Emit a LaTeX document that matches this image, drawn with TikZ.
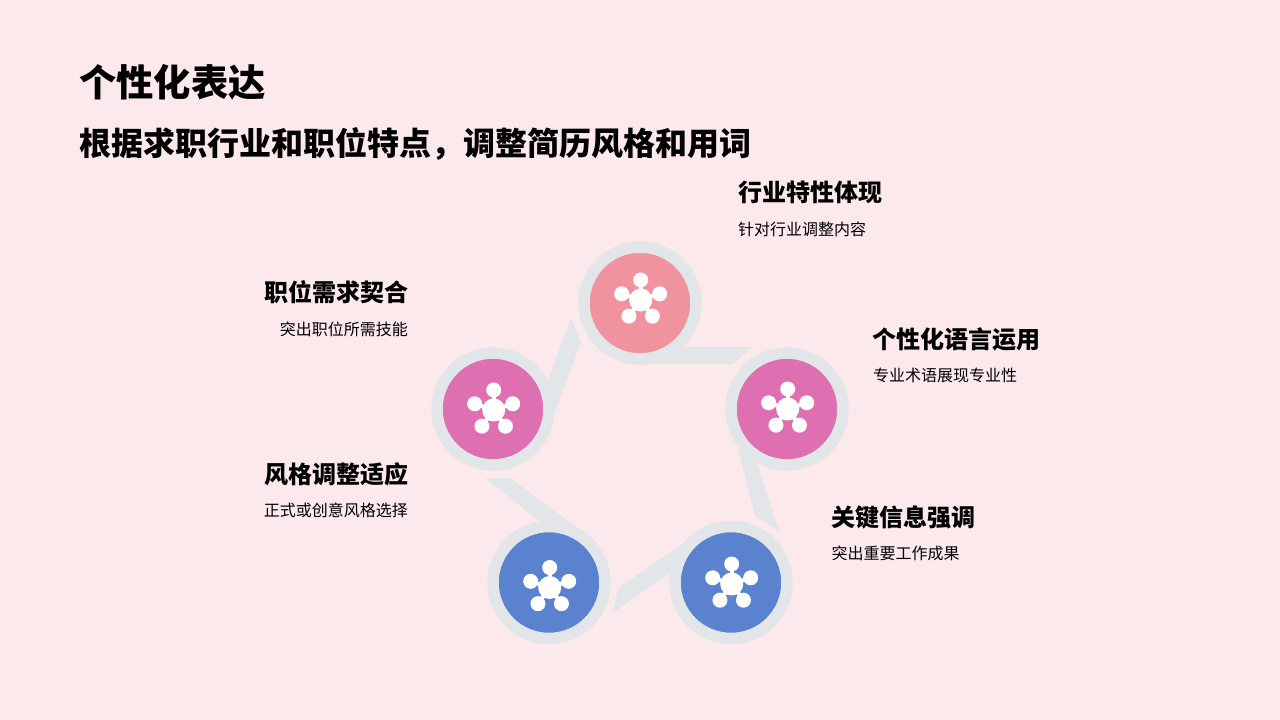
\documentclass[tikz,border=0pt]{standalone}
\usepackage{fontspec}
\setmainfont{Noto Sans CJK SC}
\definecolor{pagebg}{HTML}{FCE9EB}
\definecolor{ringgrey}{HTML}{E3E6E8}
\definecolor{rosefill}{HTML}{F0939F}
\definecolor{orchidfill}{HTML}{DE6FB0}
\definecolor{bluefill}{HTML}{5B82CF}
\tikzset{
  petal/.style={circle,draw=ringgrey,line width=11.5pt,minimum size=112pt,inner sep=0pt},
  tail/.style={fill=ringgrey,draw=none},
  headline/.style={inner sep=0pt,font=\fontsize{37.3}{37.3}\selectfont\bfseries},
  subline/.style={inner sep=0pt,font=\fontsize{32}{32}\selectfont\bfseries},
  itemhead/.style={inner sep=0pt,font=\fontsize{24}{24}\selectfont\bfseries},
  itemtext/.style={inner sep=0pt,font=\fontsize{16}{16}\selectfont},
  pics/hubicon/.style={code={
    \fill[white] (0,0) circle (11.5);
    \foreach \a in {90,162,234,306,18} {
      \draw[white,line width=4pt] (0,0) -- (-\a:20);
      \fill[white] (-\a:20) circle (7.5);
    }
  }}
}
\begin{document}
\begin{tikzpicture}[x=1pt,y=-1pt]
  \fill[pagebg] (0,0) rectangle (1280,720);
  \useasboundingbox (0,0) rectangle (1280,720);

  \node[headline,anchor=west] (title) at (79,82) {个性化表达};
  \node[subline,anchor=west] (subtitle) at (79,144) {根据求职行业和职位特点，调整简历风格和用词};

  % tails under the rings
  \fill[tail] (660,347) -- (752,347) -- (733,364) -- (640,364) -- cycle;
  \fill[tail] (726,400) -- (755,516) -- (779,531) -- (757,463) -- (745,420) -- cycle;
  \fill[tail] (684,543) -- (618,588) -- (613,612.5) -- (671,572) -- cycle;
  \fill[tail] (485,478) -- (510,478) -- (578,528) -- (545,526) -- cycle;
  \fill[tail] (571,318) -- (548,380) -- (549,428) -- (581,342) -- cycle;

  \node[petal,fill=rosefill] (trait) at (640,303) {};
  \node[petal,fill=orchidfill] (voice) at (787,409) {};
  \node[petal,fill=bluefill] (focus) at (731,582.5) {};
  \node[petal,fill=bluefill] (tone) at (549,582.5) {};
  \node[petal,fill=orchidfill] (match) at (493,409) {};

  \foreach \n/\dy in {trait/-3,voice/0,focus/1.5,tone/5,match/1}
    \pic at ([xshift=0.7pt,yshift=-\dy pt]\n.center) {hubicon};

  \node[itemhead,anchor=west] (traithead) at (738,192) {行业特性体现};
  \node[itemtext,anchor=west] (traittext) at (738,229) {针对行业调整内容};
  \node[itemhead,anchor=west] (voicehead) at (872,339) {个性化语言运用};
  \node[itemtext,anchor=west] (voicetext) at (873,375) {专业术语展现专业性};
  \node[itemhead,anchor=west] (focushead) at (831,517) {关键信息强调};
  \node[itemtext,anchor=west] (focustext) at (831.5,553) {突出重要工作成果};
  \node[itemhead,anchor=east] (tonehead) at (409,474) {风格调整适应};
  \node[itemtext,anchor=east] (tonetext) at (408,510) {正式或创意风格选择};
  \node[itemhead,anchor=east] (matchhead) at (409,292) {职位需求契合};
  \node[itemtext,anchor=east] (matchtext) at (408,329) {突出职位所需技能};
\end{tikzpicture}
\end{document}
